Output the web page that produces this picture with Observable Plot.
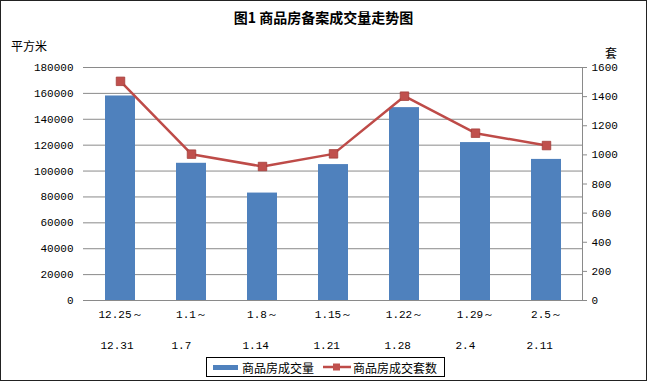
<!DOCTYPE html>
<html>
<head>
<meta charset="utf-8">
<script src="https://cdn.jsdelivr.net/npm/d3@7"></script>
<script src="https://cdn.jsdelivr.net/npm/@observablehq/plot@0.6"></script>
<style>
  body { margin: 0; background: #fff; }
  #wrap { position: relative; width: 647px; height: 382px; overflow: hidden; background: #fff; }
  #wrap svg { position: absolute; left: 0; top: 0; }
  .abs { position: absolute; font-family: "Noto Sans CJK SC", sans-serif; color: #000; white-space: nowrap; }
  #title { left: 0; width: 647px; top: 7px; text-align: center; font-size: 14px; font-weight: bold; line-height: 20px; }
  #unitL { left: 11px; top: 37px; font-size: 12px; line-height: 18px; }
  #unitR { left: 605px; top: 44px; font-size: 12px; line-height: 18px; }
  #legend { left: 206px; top: 357px; width: 239px; height: 20px; box-sizing: border-box; border: 1px solid #000;
            display: flex; align-items: center; font-size: 12px; background: #fff; }
  #border { position: absolute; left: 0; top: 0; width: 647px; height: 381px; box-sizing: border-box; border: 1px solid #222; pointer-events: none; }
</style>
</head>
<body>
<div id="wrap">
  <div id="title" class="abs">图1 商品房备案成交量走势图</div>
  <div id="unitL" class="abs">平方米</div>
  <div id="unitR" class="abs">套</div>
  <div id="legend" class="abs"></div>
  <div id="border"></div>
</div>
<script>
// ---- data ----
const periodStart = ["12.25～", "1.1～", "1.8～", "1.15～", "1.22～", "1.29～", "2.5～"];
const periodEnd = ["12.31", "1.7", "1.14", "1.21", "1.28", "2.4", "2.11"];
const areaSold = [158000, 106000, 83000, 105000, 149000, 122000, 109000]; // 平方米
const unitsSold = [1505, 1005, 920, 1007, 1403, 1149, 1064];              // 套
const leftTicks = [0, 20000, 40000, 60000, 80000, 100000, 120000, 140000, 160000, 180000];
const rightTicks = [0, 200, 400, 600, 800, 1000, 1200, 1400, 1600];
const seriesNames = ["商品房成交量", "商品房成交套数"];

const leftMax = 180000, rightMax = 1600, k = leftMax / rightMax;
const rows = periodStart.map((p, i) => ({key: p + periodEnd[i], start: p, end: periodEnd[i], area: areaSold[i], units: unitsSold[i], unitsScaled: unitsSold[i] * k}));
const keys = rows.map(d => d.key);

const BLUE = "#4f81bd", RED = "#be4b48", GRID = "#8a8a8a";

const chart = Plot.plot({
  width: 647, height: 382,
  marginLeft: 83, marginRight: 65, marginTop: 67, marginBottom: 82,
  style: {fontFamily: "'Liberation Mono', monospace", fontSize: "11px", color: "#000", background: "transparent"},
  x: {domain: keys, paddingInner: 0.58, paddingOuter: 0.29, axis: null},
  y: {domain: [0, leftMax], axis: null},
  marks: [
    Plot.gridY(leftTicks, {stroke: GRID, strokeOpacity: 1}),
    Plot.barY(rows, {x: "key", y: "area", fill: BLUE}),
    Plot.ruleY([0], {stroke: GRID, strokeOpacity: 1}),
    Plot.frame({anchor: "right", stroke: GRID}),
    Plot.axisY(leftTicks, {anchor: "left", tickSize: 0, tickPadding: 10, tickFormat: d => String(d), fill: "#000"}),
    Plot.axisY(rightTicks.map(v => v * k), {anchor: "right", tickSize: 4, tickPadding: 5, stroke: GRID, tickFormat: d => String(Math.round(d / k)), fill: "#000"}),
    Plot.line(rows, {x: "key", y: "unitsScaled", stroke: RED, strokeWidth: 2.5}),
    Plot.dot(rows, {x: "key", y: "unitsScaled", symbol: "square", r: 4.8, fill: "#c0504d", stroke: "#a33d3a", strokeWidth: 0.8}),
    Plot.text(rows, {x: "key", frameAnchor: "bottom", text: "start", textAnchor: "middle", dy: 17, fill: "#000", fontSize: 11}),
    Plot.text(rows, {x: "key", frameAnchor: "bottom", text: "end", textAnchor: "start", dx: -20, dy: 48, fill: "#000", fontSize: 11})
  ]
});
document.getElementById("wrap").insertBefore(chart, document.getElementById("title"));

// legend
const lg = document.getElementById("legend");
lg.innerHTML = `
  <span style="display:inline-block;width:25px;height:5px;background:${BLUE};margin-left:6px;margin-right:4px"></span>
  <span>${seriesNames[0]}</span>
  <svg width="30" height="10" style="position:static;margin-left:8px;margin-right:1px">
    <line x1="1" y1="5" x2="29" y2="5" stroke="${RED}" stroke-width="2.5"/>
    <rect x="11" y="1.5" width="7" height="7" fill="#c0504d"/>
  </svg>
  <span>${seriesNames[1]}</span>`;
</script>
</body>
</html>
